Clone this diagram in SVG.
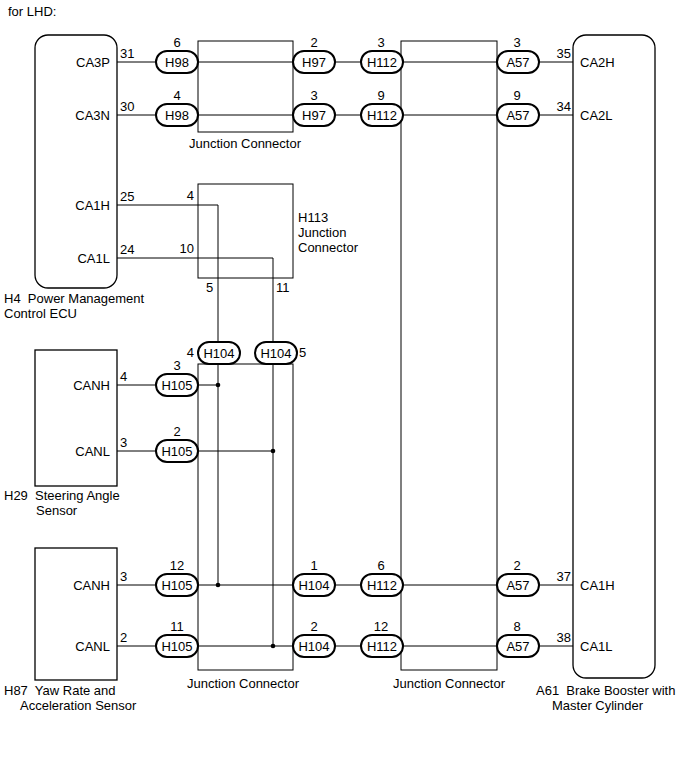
<svg xmlns="http://www.w3.org/2000/svg" width="691" height="757" viewBox="0 0 691 757">
<style>
text{font-family:"Liberation Sans",Arial,sans-serif;font-size:13px;fill:#000}
.m{text-anchor:middle}.e{text-anchor:end}
.b{fill:none;stroke:#000;stroke-width:1.3}
.p{fill:#fff;stroke:#000;stroke-width:2}
.w{fill:none;stroke:#000;stroke-width:1}
</style>
<rect width="691" height="757" fill="#fff"/>
<text x="8" y="16">for LHD:</text>
<g id="connectors">
<path class="w" d="M117 62H540M117 115H540M539 62H573M539 115H573"/>
<path class="w" d="M117 205H218V342M117 258H273V342"/>
<path class="w" d="M117 385H218M117 451H273M218 364V585M273 364V646"/>
<path class="w" d="M117 585H573M117 646H573"/>
<circle cx="218" cy="385" r="2.3"/><circle cx="273" cy="451" r="2.3"/>
<circle cx="218" cy="585" r="2.3"/><circle cx="273" cy="646" r="2.3"/>
</g>
<g id="H4"><rect class="b" x="35" y="35" width="82" height="253" rx="13"/>
<text class="e" x="110" y="67">CA3P</text><text class="e" x="110" y="120">CA3N</text>
<text class="e" x="110" y="210">CA1H</text><text class="e" x="110" y="263">CA1L</text>
<text x="120" y="58">31</text><text x="120" y="111">30</text><text x="120" y="201">25</text><text x="120" y="254">24</text>
<text x="4" y="303" xml:space="preserve">H4  Power Management</text><text x="4" y="318">Control ECU</text></g>
<g id="jc1"><rect class="w" x="198" y="41" width="95" height="91"/><text class="m" x="245" y="148">Junction Connector</text></g>
<g id="h113"><rect class="w" x="198" y="184" width="95" height="94"/>
<text x="298" y="222">H113</text><text x="298" y="237">Junction</text><text x="298" y="252">Connector</text>
<text class="e" x="194" y="200">4</text><text class="e" x="194" y="253">10</text><text x="206" y="292">5</text><text x="276" y="292">11</text></g>
<g id="jc2"><rect class="w" x="198" y="364" width="95" height="306"/><text class="m" x="243" y="688">Junction Connector</text></g>
<g id="jc3"><rect class="w" x="401" y="41" width="96" height="629"/><text class="m" x="449" y="688">Junction Connector</text></g>
<g id="A61"><rect class="b" x="573" y="35" width="82" height="643" rx="13"/>
<text x="580" y="67">CA2H</text><text x="580" y="120">CA2L</text><text x="580" y="590">CA1H</text><text x="580" y="651">CA1L</text>
<text class="e" x="571" y="58">35</text><text class="e" x="571" y="111">34</text><text class="e" x="571" y="581">37</text><text class="e" x="571" y="642">38</text>
<text x="536" y="695" xml:space="preserve">A61  Brake Booster with</text><text x="552" y="710">Master Cylinder</text></g>
<g id="H29"><rect class="b" x="35" y="350" width="82" height="136"/>
<text class="e" x="110" y="390">CANH</text><text class="e" x="110" y="456">CANL</text>
<text x="120" y="381">4</text><text x="120" y="447">3</text>
<text x="4" y="500" xml:space="preserve">H29  Steering Angle</text><text x="36" y="515">Sensor</text></g>
<g id="H87"><rect class="b" x="35" y="548" width="82" height="132"/>
<text class="e" x="110" y="590">CANH</text><text class="e" x="110" y="651">CANL</text>
<text x="120" y="581">3</text><text x="120" y="642">2</text>
<text x="4" y="695" xml:space="preserve">H87  Yaw Rate and</text><text x="20" y="710">Acceleration Sensor</text></g>
<g id="pills">
<rect class="p" x="156" y="51" width="42" height="22" rx="11"/><text class="m" x="177" y="67">H98</text><text class="m" x="177" y="47">6</text>
<rect class="p" x="156" y="104" width="42" height="22" rx="11"/><text class="m" x="177" y="120">H98</text><text class="m" x="177" y="100">4</text>
<rect class="p" x="293" y="51" width="42" height="22" rx="11"/><text class="m" x="314" y="67">H97</text><text class="m" x="314" y="47">2</text>
<rect class="p" x="293" y="104" width="42" height="22" rx="11"/><text class="m" x="314" y="120">H97</text><text class="m" x="314" y="100">3</text>
<rect class="p" x="361" y="51" width="42" height="22" rx="11"/><text class="m" x="382" y="67">H112</text><text class="m" x="381" y="47">3</text>
<rect class="p" x="361" y="104" width="42" height="22" rx="11"/><text class="m" x="382" y="120">H112</text><text class="m" x="381" y="100">9</text>
<rect class="p" x="497" y="51" width="42" height="22" rx="11"/><text class="m" x="518" y="67">A57</text><text class="m" x="517" y="47">3</text>
<rect class="p" x="497" y="104" width="42" height="22" rx="11"/><text class="m" x="518" y="120">A57</text><text class="m" x="517" y="100">9</text>
<rect class="p" x="198" y="342" width="42" height="22" rx="11"/><text class="m" x="219" y="358">H104</text><text class="e" x="194" y="357">4</text>
<rect class="p" x="255" y="342" width="42" height="22" rx="11"/><text class="m" x="276" y="358">H104</text><text x="299" y="357">5</text>
<rect class="p" x="156" y="374" width="42" height="22" rx="11"/><text class="m" x="177" y="390">H105</text><text class="m" x="177" y="370">3</text>
<rect class="p" x="156" y="440" width="42" height="22" rx="11"/><text class="m" x="177" y="456">H105</text><text class="m" x="177" y="436">2</text>
<rect class="p" x="156" y="574" width="42" height="22" rx="11"/><text class="m" x="177" y="590">H105</text><text class="m" x="177" y="570">12</text>
<rect class="p" x="156" y="635" width="42" height="22" rx="11"/><text class="m" x="177" y="651">H105</text><text class="m" x="177" y="631">11</text>
<rect class="p" x="293" y="574" width="42" height="22" rx="11"/><text class="m" x="314" y="590">H104</text><text class="m" x="314" y="570">1</text>
<rect class="p" x="293" y="635" width="42" height="22" rx="11"/><text class="m" x="314" y="651">H104</text><text class="m" x="314" y="631">2</text>
<rect class="p" x="361" y="574" width="42" height="22" rx="11"/><text class="m" x="382" y="590">H112</text><text class="m" x="381" y="570">6</text>
<rect class="p" x="361" y="635" width="42" height="22" rx="11"/><text class="m" x="382" y="651">H112</text><text class="m" x="381" y="631">12</text>
<rect class="p" x="497" y="574" width="42" height="22" rx="11"/><text class="m" x="518" y="590">A57</text><text class="m" x="517" y="570">2</text>
<rect class="p" x="497" y="635" width="42" height="22" rx="11"/><text class="m" x="518" y="651">A57</text><text class="m" x="517" y="631">8</text>
</g>
</svg>
